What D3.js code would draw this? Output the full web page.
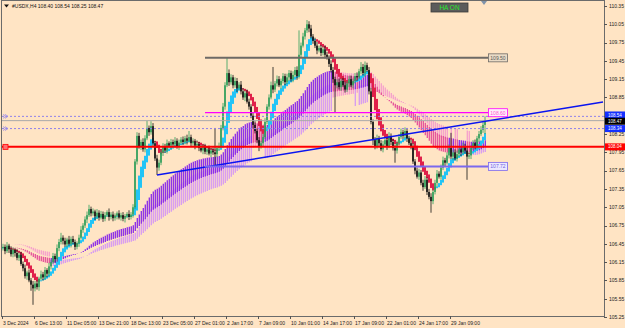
<!DOCTYPE html>
<html>
<head>
<meta charset="utf-8">
<script src="https://cdn.jsdelivr.net/npm/d3@7"></script>
<style>
  html, body { margin: 0; padding: 0; background: #ffe4c4; }
  svg { display: block; font-family: "Liberation Sans", Arial, sans-serif; }
</style>
</head>
<body>
<svg id="chart" width="625" height="328"></svg>
<script>
// ---- data (USDX, H4) ----
const closes = [
  106.40,106.33,106.42,106.36,106.28,106.35,106.30,106.22,106.27,106.12,
  106.05,105.92,105.98,105.85,105.78,105.72,105.80,105.74,105.88,105.95,
  105.90,106.02,105.96,106.08,106.15,106.25,106.20,106.38,106.48,106.55,
  106.50,106.44,106.52,106.45,106.53,106.48,106.40,106.46,106.55,106.68,
  106.75,106.85,106.92,107.02,106.95,106.98,106.90,106.96,106.88,106.94,
  106.86,106.92,106.97,106.89,106.93,106.87,106.91,106.95,106.88,106.92,
  106.86,106.90,106.94,106.89,106.93,107.05,107.80,108.22,108.05,108.12,
  108.00,108.18,108.35,108.28,108.38,108.10,107.85,107.70,107.78,107.95,
  108.05,107.98,108.10,108.06,108.12,108.08,108.14,108.05,108.11,108.16,
  108.12,108.18,108.14,108.20,108.10,108.13,108.06,108.09,108.02,107.98,
  108.04,107.96,108.00,107.93,107.98,107.95,107.92,108.02,108.05,108.35,
  108.70,109.05,109.25,109.10,109.18,109.05,109.12,109.00,109.06,108.95,
  108.85,108.92,108.78,108.70,108.55,108.40,108.30,108.15,108.05,108.10,
  108.20,108.45,108.70,108.85,109.05,108.98,109.08,109.15,109.05,109.12,
  109.20,109.10,109.18,109.25,109.15,109.22,109.30,109.20,109.55,109.70,
  109.85,109.95,110.05,109.98,109.85,109.78,109.70,109.62,109.66,109.58,
  109.64,109.55,109.50,109.40,109.30,109.15,109.05,109.10,109.02,109.12,
  109.05,108.98,109.08,109.15,109.05,109.12,109.20,109.18,109.28,109.35,
  109.25,109.38,109.30,108.95,108.45,108.15,108.05,108.18,108.10,108.00,
  108.08,108.15,108.05,108.22,108.12,108.02,107.98,108.10,108.20,108.28,
  108.22,108.30,108.18,108.10,108.05,107.80,107.65,107.55,107.62,107.45,
  107.38,107.50,107.30,107.22,107.15,107.30,107.45,107.60,107.55,107.70,
  107.82,107.78,107.90,108.02,107.88,107.95,107.85,107.92,108.00,107.95,
  108.05,107.98,107.88,107.90,108.02,108.10,108.05,108.18,108.25,108.32,
  108.40,108.47
];
const opens = [
  106.38,106.40,106.33,106.42,106.36,106.28,106.35,106.30,106.22,106.27,
  106.12,106.05,105.92,105.98,105.85,105.78,105.72,105.80,105.74,105.88,
  105.95,105.90,106.02,105.96,106.08,106.15,106.25,106.20,106.38,106.48,
  106.55,106.50,106.44,106.52,106.45,106.53,106.48,106.40,106.46,106.55,
  106.68,106.75,106.85,106.92,107.02,106.95,106.98,106.90,106.96,106.88,
  106.94,106.86,106.92,106.97,106.89,106.93,106.87,106.91,106.95,106.88,
  106.92,106.86,106.90,106.94,106.89,106.93,107.05,107.80,108.22,108.05,
  108.12,108.00,108.18,108.35,108.28,108.38,108.10,107.85,107.70,107.78,
  107.95,108.05,107.98,108.10,108.06,108.12,108.08,108.14,108.05,108.11,
  108.16,108.12,108.18,108.14,108.20,108.10,108.13,108.06,108.09,108.02,
  107.98,108.04,107.96,108.00,107.93,107.98,107.95,107.92,108.02,108.05,
  108.35,108.70,109.05,109.25,109.10,109.18,109.05,109.12,109.00,109.06,
  108.95,108.85,108.92,108.78,108.70,108.55,108.40,108.30,108.15,108.05,
  108.10,108.20,108.45,108.70,108.85,109.05,108.98,109.08,109.15,109.05,
  109.12,109.20,109.10,109.18,109.25,109.15,109.22,109.30,109.20,109.55,
  109.70,109.85,109.95,110.05,109.98,109.85,109.78,109.70,109.62,109.66,
  109.58,109.64,109.55,109.50,109.40,109.30,109.15,109.05,109.10,109.02,
  109.12,109.05,108.98,109.08,109.15,109.05,109.12,109.20,109.18,109.28,
  109.35,109.25,109.38,109.30,108.95,108.45,108.15,108.05,108.18,108.10,
  108.00,108.08,108.15,108.05,108.22,108.12,108.02,107.98,108.10,108.20,
  108.28,108.22,108.30,108.18,108.10,108.05,107.80,107.65,107.55,107.62,
  107.45,107.38,107.50,107.30,107.22,107.15,107.30,107.45,107.60,107.55,
  107.70,107.82,107.78,107.90,108.02,107.88,107.95,107.85,107.92,108.00,
  107.95,108.05,107.98,107.88,107.90,108.02,108.10,108.05,108.18,108.25,
  108.32,108.40
];
// wick lengths in price points (1/100) above the body top and below the body bottom
const upperWicks = [
  5,4,6,3,5,4,3,6,4,5, 4,6,3,5,4,6,4,5,3,6, 4,5,3,6,4,5,4,6,5,8, 4,5,3,6,4,5,4,3,5,6,
  4,5,6,7,4,5,3,6,4,5, 4,5,3,6,4,5,4,3,5,4, 5,4,3,6,4,5,4,6,5,4, 6,5,12,4,8,5,4,6,5,4,
  5,4,6,3,5,4,6,4,5,4, 5,4,6,10,4,5,4,6,3,5, 4,5,3,6,4,5,40,4,6,5, 6,5,25,6,5,4,6,5,4,6,
  5,4,6,5,4,5,6,4,5,4, 5,6,4,5,6,30,4,6,5,4, 5,4,6,5,4,6,5,6,40,5, 6,4,7,5,6,4,5,6,4,5,
  4,6,5,4,6,5,4,5,6,4, 5,6,4,5,6,4,5,6,4,8, 5,6,4,5,6,4,5,6,4,5, 6,4,5,6,4,5,6,4,5,6,
  4,6,5,4,6,5,4,5,6,4, 5,6,4,5,6,4,5,6,4,5, 6,4,5,6,25,4,5,6,4,5, 6,4,5,6,4,5,6,4,5,6,
  5,7
];
const lowerWicks = [
  4,5,3,6,4,5,6,4,5,3, 5,4,6,3,10,27,5,4,6,3, 5,4,6,4,5,3,6,4,5,4, 6,4,5,3,6,4,5,4,6,3,
  5,4,6,3,5,4,6,4,5,3, 5,4,3,6,4,5,4,6,3,5, 4,6,3,5,4,5,3,5,4,6, 4,5,3,6,4,5,4,12,5,4,
  6,4,5,3,6,4,5,4,6,3, 5,4,6,3,5,4,6,4,5,3, 6,4,5,3,6,4,18,5,4,3, 4,5,3,6,4,5,4,6,3,5,
  4,6,3,5,4,6,4,5,8,4, 5,3,4,5,3,6,4,5,3,6, 4,5,3,6,4,5,3,6,4,5, 3,5,4,6,3,5,4,6,3,5,
  4,6,3,5,4,6,45,5,4,6, 3,5,4,6,3,5,4,6,3,5, 4,6,3,5,4,8,5,4,6,3, 5,4,6,3,5,4,20,5,4,3,
  5,4,6,3,5,4,6,3,5,4, 6,3,5,4,19,5,4,6,3,5, 4,6,3,5,4,6,3,5,4,6, 3,5,38,4,6,3,5,4,6,3,
  5,15
];

const timeTickBars = [0, 16, 32, 48, 64, 80, 96, 112, 128, 144, 160, 176, 192, 208, 224];
const timeTickLabels = ["3 Dec 2024", "6 Dec 13:00", "11 Dec 05:00", "13 Dec 21:00", "18 Dec 13:00",
  "23 Dec 05:00", "27 Dec 01:00", "2 Jan 17:00", "7 Jan 09:00", "10 Jan 01:00", "14 Jan 17:00",
  "17 Jan 09:00", "22 Jan 01:00", "24 Jan 17:00", "29 Jan 09:00"];
const priceTicks = [110.35, 110.05, 109.75, 109.45, 109.15, 108.85, 108.55, 108.25, 107.95,
  107.65, 107.35, 107.05, 106.75, 106.45, 106.15, 105.85, 105.55, 105.25];

// drawn objects
const levelPrices = [109.50, 108.60, 107.72];
const levelColors = ["#6e6a66", "#ff00ff", "#7b68ee"];
const levelStartBar = 101;
const redLevel = 108.04;
const dottedLevels = [108.54, 108.34];
const bidPrice = 108.47;
const trendBars = [77, 241];
const trendPrices = [107.58, 108.46];
const titleText = "#USDX,H4  108.40 108.54 108.25 108.47";

// ---- layout ----
const svg = d3.select("#chart");
const frame = { left: 2, right: 604, top: 1, bottom: 316 };
const fontSize = 5;

const x = d3.scaleLinear().domain([0, 300]).range([3, 603]);
const y = d3.scaleLinear().domain([105.25, 110.35]).range([317, 6]);

svg.append("rect").attr("width", 625).attr("height", 328).attr("fill", "#ffe4c4");

svg.append("clipPath").attr("id", "plot")
  .append("rect")
  .attr("x", frame.left).attr("y", frame.top)
  .attr("width", frame.right - frame.left).attr("height", frame.bottom - frame.top);

const plot = svg.append("g").attr("clip-path", "url(#plot)");

// ---- indicators ----
function ema(vals, n) {
  const k = 2 / (n + 1);
  let prev = vals[0];
  return vals.map((v, i) => (prev = i ? prev + k * (v - prev) : v));
}

const bars = closes.map((c, i) => {
  const o = opens[i];
  return {
    i: i, o: o, c: c,
    h: Math.max(o, c) + upperWicks[i] / 100,
    l: Math.min(o, c) - lowerWicks[i] / 100
  };
});
const highs = bars.map((b) => b.h);
const lows = bars.map((b) => b.l);

// slow ribbon, drawn as thin hatch lines
const eFast = ema(closes, 40), eSlow = ema(closes, 70);
const hiA = ema(highs, 50), hiB = ema(highs, 90);
const loA = ema(lows, 50), loB = ema(lows, 90);
const rising = eFast.map((v, i) => (i ? v >= eFast[i - 1] : false));
const hx = (d) => x(d.i) + 0.3;

plot.append("g").selectAll("line")
  .data(bars).enter().append("line")
  .attr("x1", hx).attr("x2", hx)
  .attr("y1", (d) => y(rising[d.i] ? loA[d.i] : hiA[d.i]))
  .attr("y2", (d) => y(rising[d.i] ? loB[d.i] : hiB[d.i]))
  .attr("stroke", (d) => (rising[d.i] ? "#d69af2" : "#f5a0cc"))
  .attr("stroke-width", 1.3);

plot.append("g").selectAll("line")
  .data(bars).enter().append("line")
  .attr("x1", hx).attr("x2", hx)
  .attr("y1", (d) => y(eFast[d.i]))
  .attr("y2", (d) => y(eSlow[d.i]))
  .attr("stroke", (d) => (rising[d.i] ? "#8a2be8" : "#e4509a"))
  .attr("stroke-width", 1.3);

// smoothed heiken ashi
const mo = ema(opens, 6), mh = ema(highs, 6), ml = ema(lows, 6), mc = ema(closes, 6);
const haC = mc.map((c, i) => (mo[i] + mh[i] + ml[i] + c) / 4);
const haO = [];
haC.forEach((c, i) => {
  haO[i] = i ? (haO[i - 1] + haC[i - 1]) / 2 : (mo[0] + mc[0]) / 2;
});

plot.append("g").selectAll("rect")
  .data(bars).enter().append("rect")
  .attr("x", (d) => x(d.i) - 1)
  .attr("width", 2)
  .attr("y", (d) => y(Math.max(haO[d.i], haC[d.i])))
  .attr("height", (d) => Math.max(1, Math.abs(y(haO[d.i]) - y(haC[d.i]))))
  .attr("fill", (d) => (haC[d.i] >= haO[d.i] ? "#22c4f6" : "#e0204a"));

// ---- candles ----
const candle = plot.append("g").selectAll("g")
  .data(bars).enter().append("g");

candle.append("line")
  .attr("x1", (d) => x(d.i)).attr("x2", (d) => x(d.i))
  .attr("y1", (d) => y(d.h)).attr("y2", (d) => y(d.l))
  .attr("stroke", (d) => (d.c >= d.o ? "#2f9e5a" : "#111"))
  .attr("stroke-width", 0.8);

candle.append("rect")
  .attr("x", (d) => x(d.i) - 0.8)
  .attr("width", 1.6)
  .attr("y", (d) => y(Math.max(d.o, d.c)))
  .attr("height", (d) => Math.max(0.8, Math.abs(y(d.o) - y(d.c))))
  .attr("fill", (d) => (d.c >= d.o ? "#2f9e5a" : "#111"));

// ---- price lines ----
plot.append("line")
  .attr("x1", frame.left).attr("x2", frame.right)
  .attr("y1", y(bidPrice)).attr("y2", y(bidPrice))
  .attr("stroke", "#a9a9a9").attr("stroke-width", 1);

plot.selectAll(".dotted").data(dottedLevels).enter().append("line")
  .attr("x1", frame.left).attr("x2", frame.right)
  .attr("y1", (d) => y(d)).attr("y2", (d) => y(d))
  .attr("stroke", "#8f80ea").attr("stroke-width", 1)
  .attr("stroke-dasharray", "2,2");

plot.append("line")
  .attr("x1", frame.left).attr("x2", frame.right)
  .attr("y1", y(redLevel)).attr("y2", y(redLevel))
  .attr("stroke", "#ff0000").attr("stroke-width", 2);

// trendline (ray to the right edge)
const slope = (trendPrices[1] - trendPrices[0]) / (trendBars[1] - trendBars[0]);
plot.append("line")
  .attr("x1", x(trendBars[0])).attr("y1", y(trendPrices[0]))
  .attr("x2", x(300)).attr("y2", y(trendPrices[0] + slope * (300 - trendBars[0])))
  .attr("stroke", "#0a14f0").attr("stroke-width", 1.5);

// horizontal levels with their labels
const levelEnd = 488;
levelPrices.forEach((p, k) => {
  plot.append("line")
    .attr("x1", x(levelStartBar)).attr("x2", levelEnd)
    .attr("y1", y(p)).attr("y2", y(p))
    .attr("stroke", levelColors[k]).attr("stroke-width", k === 1 ? 1.2 : 2);
});
const levelBoxFill = ["#eadbc6", "#fff0fb", "#ece8ff"];
const levelTextFill = ["#555", "#ff55d0", "#6f5fe0"];
levelPrices.forEach((p, k) => {
  svg.append("rect")
    .attr("x", levelEnd + 0.5).attr("y", y(p) - 4)
    .attr("width", 19).attr("height", 8)
    .attr("fill", levelBoxFill[k]).attr("stroke", levelColors[k]).attr("stroke-width", 0.8);
  svg.append("text")
    .attr("x", levelEnd + 10).attr("y", y(p) + 1.8)
    .attr("text-anchor", "middle").attr("font-size", fontSize)
    .attr("fill", levelTextFill[k]).text(p.toFixed(2));
});

// left-edge markers
dottedLevels.forEach((p) => {
  svg.append("path")
    .attr("d", "M3," + (y(p) - 2) + " L6," + y(p) + " L3," + (y(p) + 2) + " M5," + (y(p) - 2) + " L8," + y(p) + " L5," + (y(p) + 2))
    .attr("fill", "none").attr("stroke", "#9a8ae8").attr("stroke-width", 0.8);
});
svg.append("rect")
  .attr("x", 3).attr("y", y(redLevel) - 2.5).attr("width", 5).attr("height", 5)
  .attr("fill", "#ff7070").attr("stroke", "#ff0000").attr("stroke-width", 0.8);

// ---- frame and axes ----
svg.append("rect")
  .attr("x", frame.left - 0.5).attr("y", frame.top - 0.5)
  .attr("width", frame.right - frame.left + 1).attr("height", frame.bottom - frame.top + 1)
  .attr("fill", "none").attr("stroke", "#6b6b6b").attr("stroke-width", 1);

// right-axis price boxes (the two close ones nudged apart a little)
const boxes = [
  { p: dottedLevels[0], fill: "#1430ff", dy: -1.4 },
  { p: bidPrice, fill: "#000", dy: 0.6 },
  { p: dottedLevels[1], fill: "#1430ff", dy: 0 },
  { p: redLevel, fill: "#ff0000", dy: 0 }
];

// tick labels hidden behind a price box are left out, as in the terminal
const shownTicks = priceTicks.filter((t) => boxes.every((b) => Math.abs(y(t) - y(b.p)) >= 5));

const yAxis = svg.append("g");
yAxis.selectAll("line").data(priceTicks).enter().append("line")
  .attr("x1", frame.right).attr("x2", frame.right + 3)
  .attr("y1", (d) => Math.round(y(d)) + 0.5).attr("y2", (d) => Math.round(y(d)) + 0.5)
  .attr("stroke", "#555");
yAxis.selectAll("text").data(shownTicks).enter().append("text")
  .attr("x", 609).attr("y", (d) => y(d) + 1.8)
  .attr("font-size", fontSize).attr("fill", "#222")
  .text((d) => d.toFixed(2));

const xAxis = svg.append("g");
xAxis.selectAll("line").data(timeTickBars).enter().append("line")
  .attr("x1", (d) => Math.round(x(d)) - 0.5).attr("x2", (d) => Math.round(x(d)) - 0.5)
  .attr("y1", frame.bottom).attr("y2", frame.bottom + 3)
  .attr("stroke", "#555");
xAxis.selectAll("text").data(timeTickBars).enter().append("text")
  .attr("x", (d) => x(d)).attr("y", 325)
  .attr("font-size", fontSize).attr("fill", "#222")
  .text((d, k) => timeTickLabels[k]);

boxes.forEach((b) => {
  svg.append("rect")
    .attr("x", frame.right + 1).attr("y", y(b.p) + b.dy - 3.5)
    .attr("width", 20).attr("height", 7).attr("fill", b.fill);
  svg.append("text")
    .attr("x", frame.right + 4).attr("y", y(b.p) + b.dy + 1.6)
    .attr("font-size", 4.5).attr("fill", "#fff").text(b.p.toFixed(2));
});

// ---- title, button, shift marker ----
svg.append("path").attr("d", "M4,4.5 L9,4.5 L6.5,7.5 Z").attr("fill", "#111");
svg.append("text").attr("x", 12).attr("y", 8)
  .attr("font-size", fontSize).attr("fill", "#111").text(titleText);

svg.append("rect")
  .attr("x", 431).attr("y", 3).attr("width", 37).attr("height", 9)
  .attr("fill", "#5b5b5b").attr("stroke", "#3a3a3a").attr("stroke-width", 0.8);
svg.append("text")
  .attr("x", 449.5).attr("y", 10)
  .attr("text-anchor", "middle").attr("font-size", 6.5)
  .attr("fill", "#27e82b").text("HA ON");

svg.append("path").attr("d", "M481,1 L487,1 L484,5 Z").attr("fill", "#7f93aa");
</script>
</body>
</html>
